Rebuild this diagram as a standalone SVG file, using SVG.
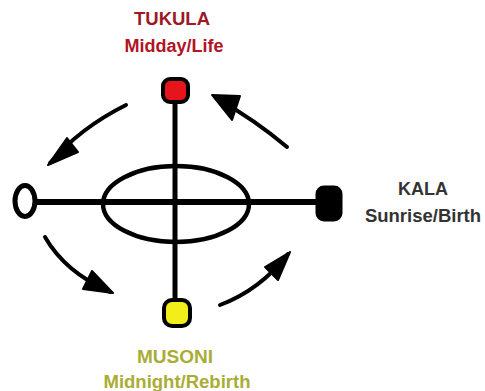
<svg xmlns="http://www.w3.org/2000/svg" width="485" height="391" viewBox="0 0 485 391">
<style>
.ln{stroke:#000;fill:none;stroke-linecap:round;stroke-linejoin:round}
.arr{stroke:#000;stroke-width:4;fill:none;stroke-linecap:round;stroke-linejoin:round}
.ah{fill:#000;stroke:#000;stroke-width:2;stroke-linejoin:round}
.t{font-family:"Liberation Sans",Arial,sans-serif;font-weight:bold;text-anchor:middle}
</style>
<rect width="485" height="391" fill="#fff"/>
<g id="cross">
<line class="ln" x1="30" y1="202" x2="320" y2="202" stroke-width="6"/>
<line class="ln" x1="175" y1="95" x2="175" y2="305" stroke-width="5"/>
<ellipse class="ln" cx="176" cy="204" rx="73" ry="38" stroke-width="4.5"/>
</g>
<g id="tukula">
<rect x="163" y="79" width="25" height="23" rx="7" fill="#e8141c" stroke="#000" stroke-width="4"/>
<text class="t" x="172" y="25" font-size="18.5" fill="#9b1a28">TUKULA</text>
<text class="t" x="174" y="52" font-size="18" fill="#b01425">Midday/Life</text>
</g>
<g id="kala">
<rect x="317" y="187" width="24" height="33" rx="7" fill="#000" stroke="#000" stroke-width="3"/>
<text class="t" x="423" y="195" font-size="18" fill="#333">KALA</text>
<text class="t" x="423" y="222" font-size="18.5" fill="#333">Sunrise/Birth</text>
</g>
<g id="musoni">
<rect x="164" y="300" width="26" height="26" rx="8" fill="#f2ee1a" stroke="#000" stroke-width="4"/>
<text class="t" x="175" y="363" font-size="19" fill="#a9ad35">MUSONI</text>
<text class="t" x="177" y="388" font-size="18.5" fill="#a9ad35">Midnight/Rebirth</text>
</g>
<g id="white">
<ellipse cx="25" cy="201" rx="10" ry="15.5" fill="#fff" stroke="#000" stroke-width="5"/>
</g>
<g id="connectors">
<path class="arr" d="M126,105 Q80,128 50,163"/>
<polygon class="ah" points="48,165 67,138 78,152"/>
<path class="arr" d="M287,147 Q255,120 216,98"/>
<polygon class="ah" points="212,95 240,96 232,120"/>
<path class="arr" d="M45,237 Q65,272 110,292"/>
<polygon class="ah" points="113,293 92,271 83,289"/>
<path class="arr" d="M220,305 Q260,290 288,254"/>
<polygon class="ah" points="290,252 265,267 278,280"/>
</g>
</svg>
